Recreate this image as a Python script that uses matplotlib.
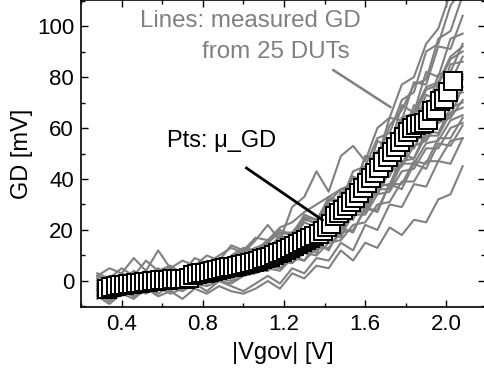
import matplotlib
matplotlib.use("Agg")
import matplotlib.pyplot as plt
from matplotlib.ticker import MultipleLocator, FormatStrFormatter

plt.rcParams['font.family'] = ['Liberation Sans', 'DejaVu Sans']

# mean GD (squares), sweep step 0.02 V
vg_mean = [0.33, 0.35, 0.37, 0.39, 0.41, 0.43, 0.45, 0.47, 0.49, 0.51,
           0.53, 0.55, 0.57, 0.59, 0.61, 0.63, 0.65, 0.67, 0.69, 0.71,
           0.73, 0.75, 0.77, 0.79, 0.81, 0.83, 0.85, 0.87, 0.89, 0.91,
           0.93, 0.95, 0.97, 0.99, 1.01, 1.03, 1.05, 1.07, 1.09, 1.11,
           1.13, 1.15, 1.17, 1.19, 1.21, 1.23, 1.25, 1.27, 1.29, 1.31,
           1.33, 1.35, 1.37, 1.39, 1.41, 1.43, 1.45, 1.47, 1.49, 1.51,
           1.53, 1.55, 1.57, 1.59, 1.61, 1.63, 1.65, 1.67, 1.69, 1.71,
           1.73, 1.75, 1.77, 1.79, 1.81, 1.83, 1.85, 1.87, 1.89, 1.91,
           1.93, 1.95, 1.97, 1.99, 2.01, 2.03]
gd_mean = [-3.0, -2.5, -2.0, -1.7, -1.4, -1.2, -1.0, -0.8, -0.6, -0.4,
           -0.2, 0.0, 0.1, 0.3, 0.4, 0.5, 0.6, 0.7, 0.8, 0.9,
           1.0, 2.5, 2.7, 3.0, 3.3, 3.6, 4.0, 4.3, 4.7, 5.0,
           5.3, 5.6, 6.0, 6.3, 6.7, 7.1, 7.5, 8.0, 8.5, 9.0,
           9.6, 10.2, 10.8, 11.5, 12.2, 12.9, 13.6, 14.4, 15.2, 16.0,
           16.8, 17.7, 18.6, 19.6, 21.0, 22.5, 25.5, 26.5, 28.0, 29.5,
           31.0, 32.5, 34.5, 36.5, 38.5, 40.5, 42.5, 44.5, 46.5, 48.5,
           50.5, 52.5, 54.5, 56.5, 58.5, 60.0, 61.0, 61.5, 62.0, 63.0,
           66.5, 67.0, 70.5, 71.5, 74.0, 78.5]

# measured GD of 25 DUTs (gray lines)
vg_dut = [0.28, 0.34, 0.40, 0.46, 0.52, 0.58, 0.64, 0.70, 0.76, 0.82,
          0.88, 0.94, 1.00, 1.06, 1.12, 1.18, 1.24, 1.30, 1.36, 1.42,
          1.48, 1.54, 1.60, 1.66, 1.72, 1.78, 1.84, 1.90, 1.96, 2.02, 2.08]
gd_dut = [
    [3, 1, 5, 2, 8, 4, 6, 3, 9, 7, 10, 13, 11, 16, 22, 16, 29, 33, 43, 35, 49, 53, 47, 60, 64, 77, 80, 93, 99, 113, 120],
    [-2, 2, 0, 4, 1, 3, 6, 2, 5, 8, 6, 9, 12, 10, 15, 19, 18, 24, 23, 33, 31, 43, 45, 56, 58, 71, 74, 90, 93, 108, 115],
    [1, -2, 3, 0, 2, 5, 1, 4, 3, 6, 9, 7, 10, 13, 12, 18, 16, 25, 22, 31, 36, 35, 49, 47, 61, 67, 77, 79, 95, 98, 112],
    [-6, -9, -5, -7, -3, -6, -4, -7, -3, -5, -2, -4, -5, -3, 0, -3, 3, 1, 6, 5, 12, 8, 15, 13, 21, 18, 24, 23, 32, 34, 45],
    [-4, -7, -3, -6, -4, -2, -5, -3, -1, -4, 0, -2, -4, -1, 2, -1, 5, 3, 9, 8, 15, 12, 22, 20, 30, 29, 38, 37, 47, 46, 56],
    [-1, 2, -2, 1, 3, 0, 4, 2, 5, 3, 7, 8, 11, 13, 15, 20, 18, 26, 24, 32, 30, 41, 39, 55, 52, 69, 66, 82, 80, 95, 97],
    [-5, -2, -4, 0, -3, -1, 1, -2, 2, 1, 4, 3, 5, 7, 10, 9, 16, 13, 21, 18, 30, 28, 43, 41, 55, 54, 69, 66, 81, 82, 93],
    [0, -3, 1, -1, 2, 4, 1, 3, 4, 6, 5, 10, 13, 12, 16, 19, 19, 25, 24, 30, 30, 38, 40, 50, 52, 63, 64, 75, 77, 87, 90],
    [-4, -6, -2, -3, 0, -2, 0, 2, 1, 3, 2, 5, 6, 8, 9, 10, 15, 14, 20, 21, 29, 31, 40, 42, 52, 55, 65, 66, 77, 78, 88],
    [-2, -4, 0, -2, 1, -1, 2, 0, 3, 5, 3, 6, 8, 7, 8, 13, 12, 17, 17, 24, 25, 33, 35, 45, 46, 57, 58, 68, 69, 79, 81],
    [-6, -3, -5, -2, -4, -1, -3, 0, -1, 1, 2, 1, 4, 5, 7, 7, 12, 11, 17, 16, 25, 26, 36, 37, 48, 49, 59, 60, 70, 71, 80],
    [1, -1, 2, 0, 3, 1, 2, 4, 3, 4, 6, 8, 10, 13, 13, 16, 18, 19, 23, 25, 29, 30, 37, 39, 48, 50, 59, 61, 69, 72, 79],
    [-3, -5, -1, -4, -2, 0, -2, -1, 1, 0, 3, 2, 4, 6, 6, 10, 9, 14, 14, 21, 20, 30, 30, 40, 41, 52, 52, 62, 62, 73, 74],
    [-1, 1, -2, 1, -1, 2, 0, 1, 3, 2, 5, 4, 6, 8, 9, 8, 14, 11, 19, 16, 26, 24, 35, 34, 46, 45, 57, 55, 66, 65, 76],
    [-7, -4, -6, -3, -5, -2, -4, -1, -2, 0, 1, 0, 2, 4, 4, 8, 7, 13, 11, 19, 17, 28, 27, 39, 37, 50, 48, 59, 58, 68, 70],
    [2, 0, 3, 1, 4, 2, 5, 3, 4, 6, 5, 9, 12, 11, 15, 14, 19, 17, 23, 21, 27, 26, 34, 34, 43, 45, 53, 55, 62, 64, 71],
    [-4, -2, -3, 0, -2, 1, -1, 0, 2, 1, 3, 4, 3, 6, 6, 9, 9, 14, 13, 18, 20, 27, 29, 37, 38, 47, 48, 57, 57, 66, 68],
    [-3, -1, -4, -1, 0, -2, 1, -1, 2, 1, 4, 3, 5, 6, 7, 10, 9, 14, 13, 19, 20, 27, 27, 36, 36, 46, 46, 54, 55, 63, 65],
    [-5, -8, -4, -6, -3, -5, -2, -4, -1, -2, 0, -1, 2, 3, 5, 4, 9, 8, 13, 13, 19, 20, 28, 28, 38, 38, 47, 46, 56, 56, 64],
    [0, -2, 1, -1, 2, 0, 3, 1, 2, 4, 3, 5, 7, 6, 7, 10, 9, 14, 12, 19, 18, 26, 26, 34, 35, 43, 44, 52, 52, 60, 62],
    [-6, -3, -5, -2, -4, -1, -3, -1, 0, -1, 2, 1, 3, 4, 6, 5, 10, 8, 15, 12, 21, 19, 29, 27, 38, 36, 46, 44, 54, 53, 61],
    [-4, -6, -2, -4, -1, -3, -1, -2, 0, 1, 0, 2, 3, 5, 4, 8, 7, 11, 10, 15, 16, 22, 23, 30, 31, 39, 39, 47, 47, 55, 56],
    [2, 5, 3, 9, 4, 12, 5, 8, 6, 10, 8, 14, 12, 17, 16, 21, 23, 27, 30, 33, 36, 38, 43, 51, 53, 64, 66, 76, 78, 88, 92],
    [-3, 0, -2, 2, -1, 1, 3, 0, 2, 4, 3, 6, 7, 9, 12, 12, 18, 16, 24, 23, 35, 34, 49, 48, 64, 63, 78, 77, 92, 91, 104],
    [-2, 1, -1, 3, 0, 2, 1, 3, 4, 2, 5, 9, 10, 12, 13, 17, 16, 23, 21, 29, 28, 36, 36, 49, 47, 61, 60, 73, 71, 85, 86],
]

fig = plt.figure(figsize=(4.85, 3.75), dpi=100)
ax = fig.add_axes([81 / 485, 68 / 375, 404 / 485, 307 / 375])

for gd in gd_dut:
    ax.plot(vg_dut, gd, color='#808080', lw=1.5, zorder=2)

ax.plot(vg_mean, gd_mean, ls='none', marker='s', ms=12.5, mfc='white',
        mec='black', mew=1.4, zorder=4)

ax.set_xlim(0.2, 2.19)
ax.set_ylim(-10.2, 110.2)
ax.xaxis.set_major_locator(MultipleLocator(0.4))
ax.xaxis.set_minor_locator(MultipleLocator(0.2))
ax.yaxis.set_major_locator(MultipleLocator(20))
ax.yaxis.set_minor_locator(MultipleLocator(10))
ax.xaxis.set_major_formatter(FormatStrFormatter('%.1f'))
ax.tick_params(which='both', direction='in', top=True, right=True,
               labelsize=16, width=1.0, pad=5)
ax.tick_params(which='major', length=5)
ax.tick_params(which='minor', length=3)
for s in ax.spines.values():
    s.set_linewidth(1.2)

ax.set_xlabel('|Vgov| [V]', fontsize=17, labelpad=5)
ax.set_ylabel('GD [mV]', fontsize=17, labelpad=3)

ax.text(0.493, 99.6, 'Lines: measured GD', color='#808080', fontsize=17.4,
        va='baseline', ha='left')
ax.text(0.798, 87.5, 'from 25 DUTs', color='#808080', fontsize=17.4,
        va='baseline', ha='left')
ax.plot([1.443, 1.724], [82.7, 68.2], color='#808080', lw=1.8, zorder=3)

ax.text(0.626, 52.5, 'Pts: μ_GD', color='black', fontsize=17,
        va='baseline', ha='left')
ax.plot([1.015, 1.389], [44.3, 23.9], color='black', lw=2.0, zorder=5)

fig.savefig('out.png', dpi=100)
